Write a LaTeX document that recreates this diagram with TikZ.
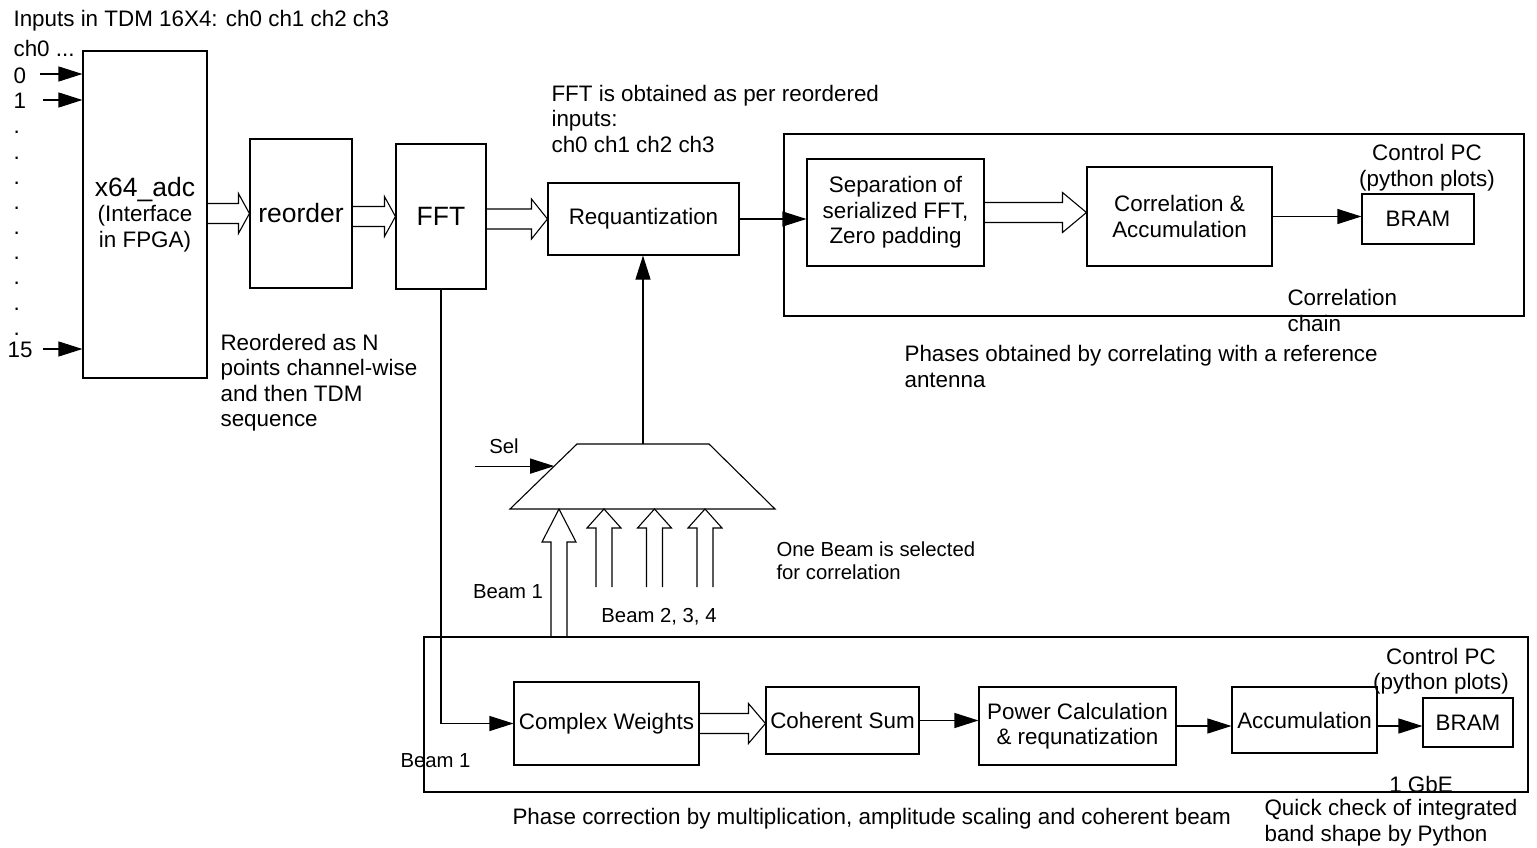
\documentclass[tikz,border=0pt]{standalone}
\usepackage{fontspec}
\setmainfont{Liberation Sans}
\usetikzlibrary{arrows.meta,calc}
\newcommand{\txtnorm}{\fontsize{22.4}{25.5}\selectfont}
\newcommand{\txtsmall}{\fontsize{20.3}{23}\selectfont}
\newcommand{\txtbig}{\fontsize{26.5}{28}\selectfont}
\newcommand{\fatright}[3][12]{%
  \draw let \p1=#2, \p2=#3 in (\x1,\y1+10pt) -- (\x2-#1pt,\y1+10pt) -- (\x2-#1pt,\y1+20pt)
  -- (\x2,\y1) -- (\x2-#1pt,\y1-20pt) -- (\x2-#1pt,\y1-10pt) -- (\x1,\y1-10pt);}
\newcommand{\fatup}[3][19]{%
  \draw let \p1=#2, \p2=#3 in (\x1-8pt,\y1) -- (\x1-8pt,\y2-#1pt) -- (\x1-17pt,\y2-#1pt)
  -- (\x2,\y2) -- (\x1+17pt,\y2-#1pt) -- (\x1+8pt,\y2-#1pt) -- (\x1+8pt,\y1);}
\begin{document}
\begin{tikzpicture}[x=1pt,y=-1pt,line width=1.1pt,
  box/.style={draw,rectangle,inner sep=0pt,align=center,font=\txtnorm},
  txt/.style={inner sep=0pt,align=left,font=\txtnorm},
  small/.style={inner sep=0pt,align=left,font=\txtsmall},
  arr/.style={-{Triangle[length=24pt,width=15pt]}}]
  \useasboundingbox (0,0) rectangle (1537,848);

  \node[txt,anchor=west] (title) at (13,21) {Inputs in TDM 16X4: ch0 ch1 ch2 ch3};
  \node[txt,anchor=west] (chz) at (13,48) {ch0 ...};
  \node[txt,anchor=west] (lab0) at (13,76) {0};
  \node[txt,anchor=west] (lab1) at (13,101) {1};
  \node[txt,anchor=west] (lab15) at (7,350) {15};
  \foreach \k in {0,...,8}
    \node[txt,anchor=base west] (dot\k) at (13,{134+25.15*\k}) {.};

  \node[box,minimum width=124,minimum height=327] (adc) at (145,214.5)
    {{\txtbig x64\_adc}\\(Interface\\in FPGA)};
  \node[box,minimum width=102,minimum height=149,font=\txtbig] (reorder) at (301,213.5) {reorder};
  \node[box,minimum width=90,minimum height=145,font=\txtbig] (fft) at (441,216.5) {FFT};
  \node[box,minimum width=191,minimum height=72] (requant) at (643.5,219) {Requantization};

  \coordinate (in0) at (40,74);
  \coordinate (in1) at (43,100);
  \coordinate (in15) at (43,349);
  \draw[arr] (in0) -- (in0 -| adc.west);
  \draw[arr] (in1) -- (in1 -| adc.west);
  \draw[arr] (in15) -- (in15 -| adc.west);

  \fatright[11]{(adc.east |- reorder.west)}{(reorder.west)}
  \fatright[11]{(reorder.east |- fft.west)}{(fft.west)}
  \fatright[16]{(fft.east |- requant.west)}{(requant.west)}

  \node[txt,anchor=west] (fftnote) at (551,118.5)
    {FFT is obtained as per reordered\\inputs:\\ch0 ch1 ch2 ch3};
  \node[txt,anchor=west] (reordnote) at (220,382.5)
    {Reordered as N\\points channel-wise\\and then TDM\\sequence};

  \node[box,minimum width=740,minimum height=182] (corrchain) at (1154,225) {};
  \node[box,minimum width=177,minimum height=107] (sep) at (895.5,212.5)
    {Separation of\\serialized FFT,\\Zero padding};
  \node[box,minimum width=185,minimum height=99] (corr) at (1179.5,216.5)
    {Correlation \&\\Accumulation};
  \node[box,minimum width=112,minimum height=50] (bram1) at (1418,219) {BRAM};
  \node[txt,align=center] (pc1) at (1427,167.5) {Control PC\\(python plots)};
  \node[txt,anchor=west] (chainlab) at (1287,310.5) {Correlation\\chain};
  \node[txt,anchor=west] (phasenote) at (904,366.5)
    {Phases obtained by correlating with a reference\\antenna};

  \draw[arr] (requant.east) -- (sep.west |- requant.east);
  \fatright[24]{(sep.east)}{(corr.west |- sep.east)}
  \draw[arr] (corr.east) -- (corr.east -| bram1.west);

  \coordinate (muxtl) at (577,444);
  \coordinate (muxtr) at (709,444);
  \coordinate (muxbr) at (775,509);
  \coordinate (muxbl) at (510,509);
  \coordinate (muxtop) at (643,444);
  \coordinate (muxbot) at (642.5,509);
  \draw (muxtl) -- (muxtr) -- (muxbr) -- (muxbl) -- cycle;
  \draw[arr] (muxtop) -- (requant.south -| muxtop);
  \node[small] (sel) at (504,446) {Sel};
  \coordinate (selin) at ($(muxtl)!0.34!(muxbl)$);
  \coordinate (selstart) at (475,0);
  \draw[arr] (selstart |- selin) -- (selin);

  \node[box,minimum width=1104,minimum height=155] (beamchain) at (976,714.5) {};
  \coordinate (tip1) at ($(muxbot)+(-83.5,0)$);
  \fatup[33]{(tip1 |- beamchain.north)}{(tip1)}
  \foreach \dx [count=\i from 2] in {-38.5,12,62.5} {
    \coordinate (tip\i) at ($(muxbot)+(\dx,0)$);
    \coordinate (foot\i) at ($(tip\i)+(0,78)$);
    \fatup{(foot\i)}{(tip\i)}
  }
  \node[small] (beam1) at (508,592) {Beam 1};
  \node[small] (beam234) at (659,617) {Beam 2, 3, 4};
  \node[small,anchor=west] (selnote) at (776,560.5) {One Beam is selected\\for correlation};

  \node[box,minimum width=185,minimum height=83] (cw) at (606.5,723.5) {Complex Weights};
  \node[box,minimum width=153,minimum height=67] (cs) at (842.5,720.5) {Coherent Sum};
  \node[box,minimum width=197,minimum height=78] (pwr) at (1077.5,726)
    {Power Calculation\\\& requnatization};
  \node[box,minimum width=145,minimum height=66] (acc) at (1304.5,720) {Accumulation};
  \node[box,minimum width=90,minimum height=49] (bram2) at (1468,722.5) {BRAM};
  \node[txt,align=center] (pc2) at (1441,671) {Control PC\\(python plots)};
  \node[txt] (gbe) at (1421,784) {1 GbE};
  \node[small,anchor=west] (beam1b) at (400,761) {Beam 1};

  \draw[arr] (fft.south) -- (fft.south |- cw.west) -- (cw.west);
  \fatright[17]{(cw.east)}{(cs.west |- cw.east)}
  \draw[arr] (cs.east) -- (cs.east -| pwr.west);
  \draw[arr] (pwr.east) -- (pwr.east -| acc.west);
  \draw[arr] (acc.east |- pwr.east) -- (bram2.west |- pwr.east);

  \node[txt,anchor=west] (phcorr) at (512,819)
    {Phase correction by multiplication, amplitude scaling and coherent beam};
  \node[txt,anchor=west] (quick) at (1264,822.5)
    {Quick check of integrated\\band shape by Python};
\end{tikzpicture}
\end{document}
